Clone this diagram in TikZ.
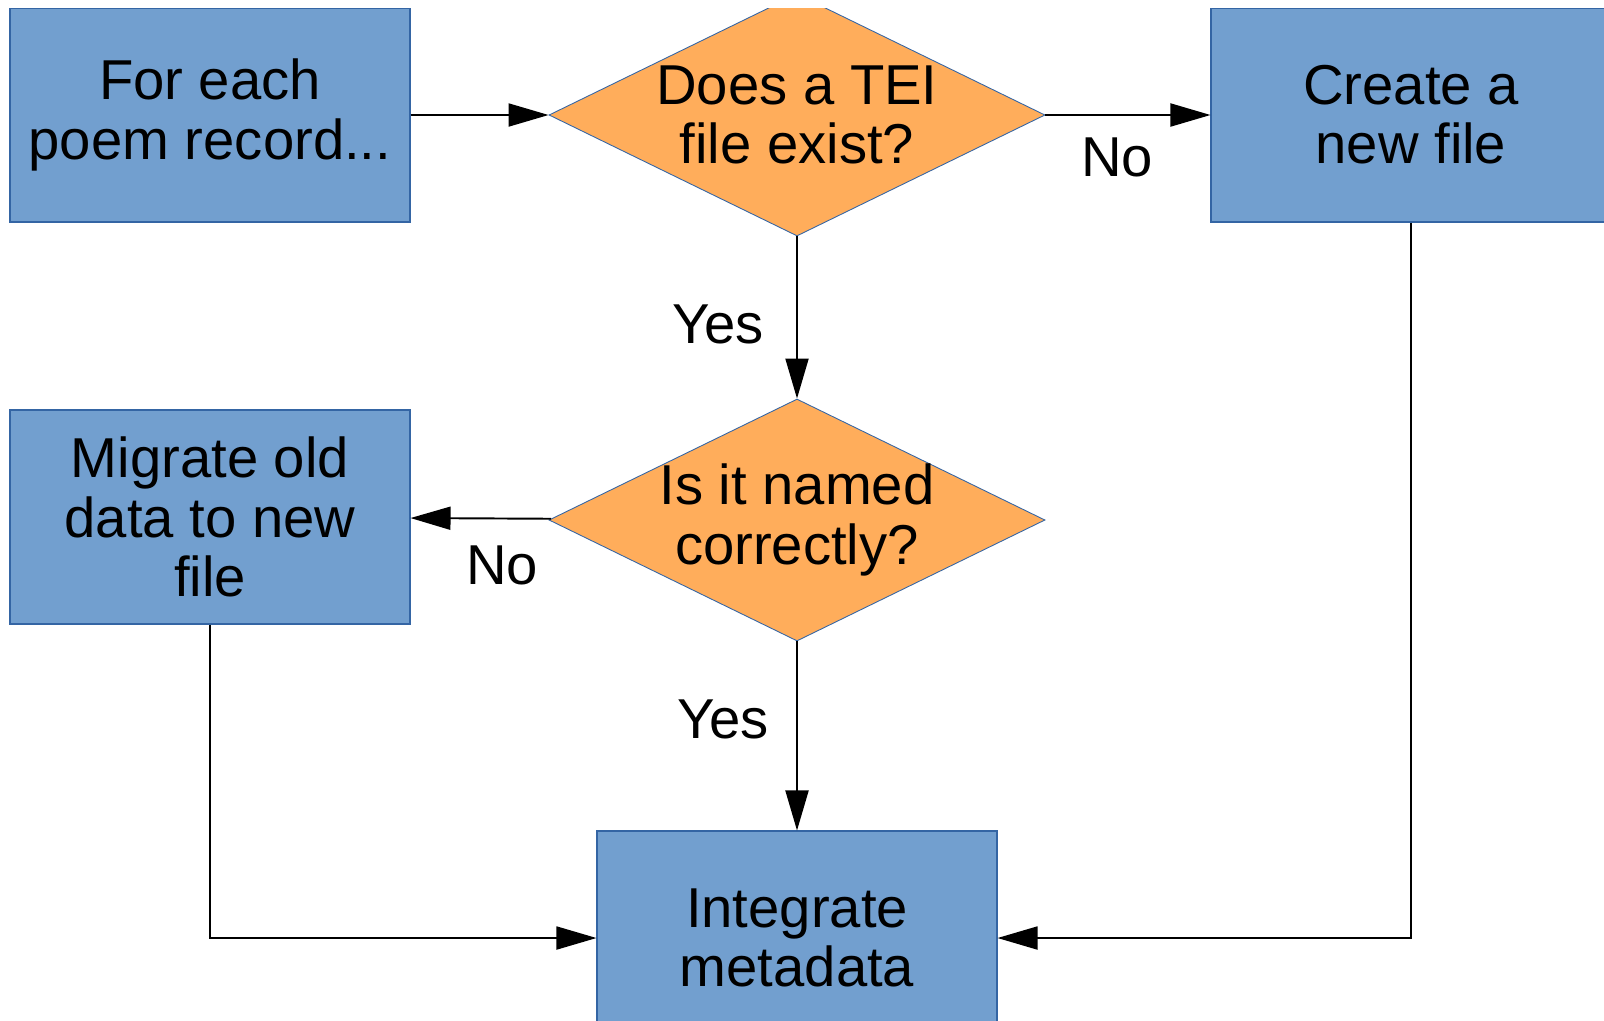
\documentclass[tikz,border=0pt]{standalone}
\usepackage{fontspec}
\setmainfont{Liberation Sans}
\usetikzlibrary{shapes.geometric,arrows.meta}
\definecolor{boxblue}{HTML}{729FCF}
\definecolor{boxline}{HTML}{3465A4}
\definecolor{askorange}{HTML}{FFAD5B}
\tikzset{
    flowbox/.style={rectangle,fill=boxblue,draw=boxline,line width=0.6pt,align=center,
        minimum width=\boxwidth cm,minimum height=\boxheight cm,inner sep=0},
    askbox/.style={diamond,fill=askorange,draw=boxline,line width=0.5pt,align=center,aspect=2.05,
        minimum width=\askwidth cm,minimum height=\askheight cm,inner sep=-4pt},
    flowarrow/.style={line width=1.1pt,-{Triangle[length=8mm,width=4.6mm]}},
    answer/.style={inner sep=0}
}

\begin{document}
\begin{tikzpicture}[font=\fontsize{32pt}{33.7pt}\selectfont]
    \pgfmathsetmacro{\boxwidth}{8}
    \pgfmathsetmacro{\boxheight}{4.28}
    \pgfmathsetmacro{\askwidth}{9.92}
    \pgfmathsetmacro{\askheight}{4.84}
    \pgfmathsetmacro{\picwidth}{32.08}
    \pgfmathsetmacro{\picheight}{20.4}
    \fill[white] (0,0) rectangle (\picwidth,-\picheight);
    \useasboundingbox (0,0) rectangle (\picwidth,-\picheight);
    \clip (0,-0.16) rectangle (\picwidth,-\picheight); % page is cut just above the boxes
    % top row
    \node[flowbox] (foreach) at (4.2,-2.3) {For each\\poem record...};
    \node[askbox] (exists) at (15.94,-2.3) {Does a TEI\\file exist?};
    \node[flowbox] (create) at (28.22,-2.3) {Create a\\new file};
    % middle row
    \node[askbox] (named) at (15.94,-10.4) {Is it named\\correctly?};
    \node[flowbox] (migrate) at (4.2,-10.34) {Migrate old\\data to new\\file};
    % bottom
    \node[flowbox] (integrate) at (15.94,-18.76) {Integrate\\metadata};
    % answers
    \node[answer] (existsno) at (22.34,-3.14) {No};
    \node[answer] (existsyes) at (14.36,-6.48) {Yes};
    \node[answer] (namedno) at (10.04,-11.3) {No};
    \node[answer] (namedyes) at (14.46,-14.38) {Yes};
    % connectors
    \draw[flowarrow] (foreach) -- (exists);
    \draw[flowarrow] (exists) -- (create);
    \draw[flowarrow] (exists) -- (named);
    \draw[flowarrow] (named) -- (migrate);
    \draw[flowarrow] (named) -- (integrate);
    \draw[flowarrow] (migrate.south) |- (integrate.west);
    \draw[flowarrow] (create.south) |- (integrate.east);
\end{tikzpicture}
\end{document}
